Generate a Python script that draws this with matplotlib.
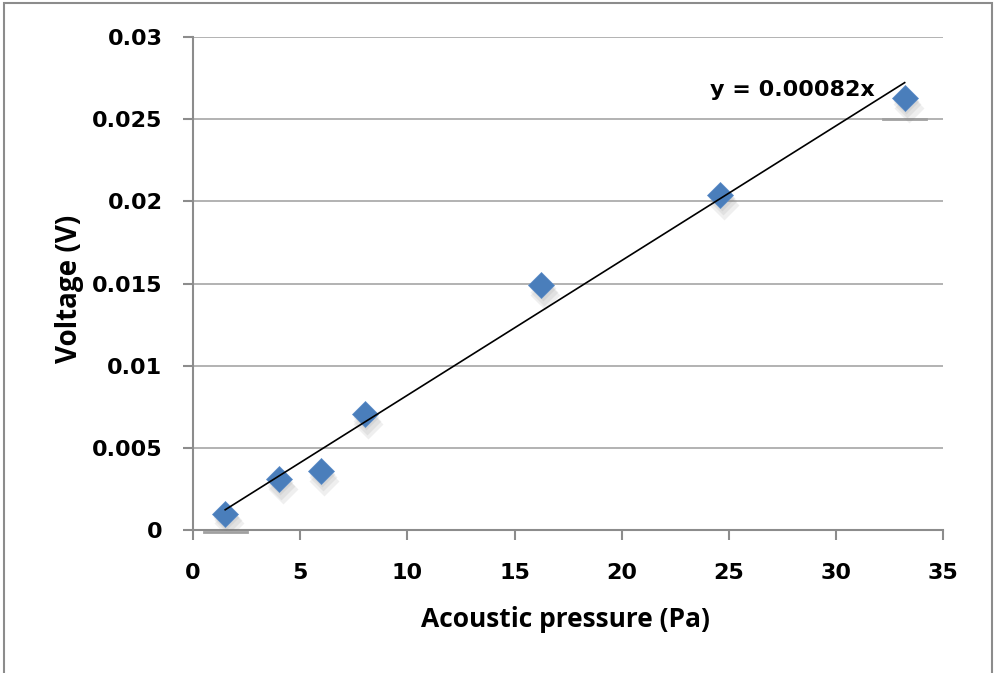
import numpy as np
import matplotlib.pyplot as plt
from matplotlib.patches import Rectangle

pressure = [1.5, 4.0, 5.95, 8.0, 16.25, 24.6, 33.2]
voltage = [0.001, 0.0031, 0.0036, 0.00705, 0.0149, 0.0204, 0.0263]
slope = 0.00082
yticks = [0, 0.005, 0.01, 0.015, 0.02, 0.025, 0.03]
ylabels = ['0', '0.005', '0.01', '0.015', '0.02', '0.025', '0.03']

plt.rcParams['font.family'] = ['Open Sans', 'DejaVu Sans']
plt.rcParams['font.weight'] = 'bold'

fig = plt.figure(figsize=(9.95, 6.73), dpi=100)
ax = fig.add_axes([0.194, 0.2125, 0.754, 0.7325])

# figure frame
fig.patches.append(Rectangle((4 / 995, -0.05), 988 / 995, 1.05 - 3 / 673,
                             transform=fig.transFigure, fill=False,
                             edgecolor='#8c8c8c', linewidth=1.5))

# soft shadow then markers
for k in range(3):
    ax.plot(np.array(pressure) + 0.06 * (k + 1), np.array(voltage) - 0.0002 * (k + 1),
            'D', ms=13.5 + k, color='#808080', alpha=0.12, mec='none', zorder=3)
ax.plot(pressure, voltage, 'D', ms=13.5, color='#4a7ebb', mec='#5a8cc8',
        mew=0.5, zorder=4)

# little grey streaks under the first and last marker
ax.plot([pressure[0] - 1.0, pressure[0] + 1.0], [-0.0001, -0.0001], color='#a0a0a0',
        lw=2, clip_on=False, zorder=2)
ax.plot([pressure[-1] - 1.0, pressure[-1] + 1.0], [0.025, 0.025], color='#a0a0a0',
        lw=2, zorder=2)

xf = np.array([min(pressure), max(pressure)])
ax.plot(xf, slope * xf, color='black', lw=1.2, zorder=5)
ax.text(31.8, 0.0268, 'y = 0.00082x', ha='right', va='center',
        fontsize=16, fontweight='bold', family='DejaVu Sans')

ax.set_xlim(0, 35)
ax.set_ylim(0, 0.03)
ax.set_xticks(np.arange(0, 36, 5))
ax.set_yticks(yticks)
ax.set_yticklabels(ylabels)
ax.grid(axis='y', color='#a6a6a6', lw=1.2)
ax.set_axisbelow(True)
for s in ['top', 'right']:
    ax.spines[s].set_visible(False)
for s in ['left', 'bottom']:
    ax.spines[s].set_color('#8c8c8c')
    ax.spines[s].set_linewidth(1.5)
ax.tick_params(length=7, width=1.5, color='#8c8c8c', labelsize=16)
ax.tick_params(axis='y', pad=15)
ax.tick_params(axis='x', pad=17)
for lab in ax.get_xticklabels() + ax.get_yticklabels():
    lab.set_fontweight('bold')
    lab.set_family('DejaVu Sans')

ax.set_xlabel('Acoustic pressure (Pa)', fontsize=19, fontweight='bold')
ax.set_ylabel('Voltage (V)', fontsize=20, fontweight='bold')
ax.xaxis.set_label_coords(0.496, -0.155)
ax.yaxis.set_label_coords(-0.145, 0.49)

fig.savefig('out.png', dpi=100)
